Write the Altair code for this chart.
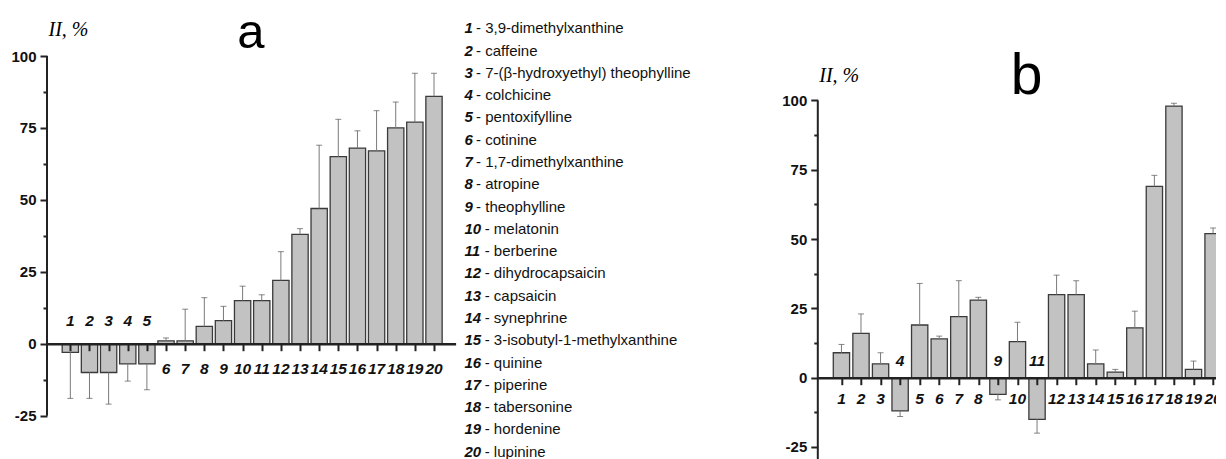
import altair as alt
import pandas as pd

# ---------------- data ----------------
ids = list(range(1, 21))
names = [
    "3,9-dimethylxanthine", "caffeine", "7-(β-hydroxyethyl) theophylline",
    "colchicine", "pentoxifylline", "cotinine", "1,7-dimethylxanthine",
    "atropine", "theophylline", "melatonin", "berberine", "dihydrocapsaicin",
    "capsaicin", "synephrine", "3-isobutyl-1-methylxanthine", "quinine",
    "piperine", "tabersonine", "hordenine", "lupinine",
]
vals_a = [-3, -10, -10, -7, -7, 1, 1, 6, 8, 15, 15, 22, 38, 47, 65, 68, 67, 75, 77, 86]
err_a = [16, 9, 11, 6, 9, 1, 11, 10, 5, 5, 2, 10, 2, 22, 13, 6, 14, 9, 17, 8]
vals_b = [9, 16, 5, -12, 19, 14, 22, 28, -6, 13, -15, 30, 30, 5, 2, 18, 69, 98, 3, 52]
err_b = [3, 7, 4, 2, 15, 1, 13, 1, 2, 7, 5, 7, 5, 5, 1, 6, 4, 1, 3, 2]
y_ticks = [-25, -12.5, 0, 12.5, 25, 37.5, 50, 62.5, 75, 87.5, 100]
y_axis_a = [-25, 100]
y_axis_b = [-29.69, 100]

# ---------------- style ----------------
FONT = "Liberation Sans, Arial"
SERIF = "Liberation Serif, Times New Roman"
DARK = "#222222"
H = 451


def panel(vals, errs, xdom, ydom, axis_span, width, letter, letter_px, letter_size,
          ytitle_y, dy_below, dy_above):
    df = pd.DataFrame({"id": ids, "v": vals, "e": errs})
    df["end"] = [v + (e if v >= 0 else -e) for v, e in zip(vals, errs)]
    df["z"] = 0
    zero_px = H * (ydom[1] - 0) / (ydom[1] - ydom[0])  # from top
    offset = -(H - zero_px)

    xaxis = alt.Axis(values=ids, labels=False, ticks=True, tickSize=7, tickWidth=2,
                     tickColor=DARK, domainColor=DARK, domainWidth=2.5, grid=False,
                     offset=offset, zindex=1, title=letter, titleFont=FONT,
                     titleFontSize=letter_size, titleFontWeight="normal", titleColor="#000",
                     titleX=letter_px[0], titleY=letter_px[1] - zero_px,
                     titleAlign="center", titleBaseline="alphabetic")
    x = alt.X("id:Q", scale=alt.Scale(domain=xdom, nice=False, zero=False), axis=xaxis)

    yaxis = alt.Axis(values=y_ticks, domain=False, grid=False,
                     labelExpr="datum.value % 25 === 0 ? '' + datum.value : ''",
                     labelFont=FONT, labelFontWeight="bold", labelFontSize=15,
                     labelColor="#111", labelPadding=4, tickColor=DARK, tickWidth=2,
                     tickSize={"condition": {"test": "datum.value % 25 !== 0", "value": 4},
                               "value": 7},
                     title="II, %", titleFont=SERIF, titleFontStyle="italic",
                     titleFontWeight="normal", titleFontSize=20, titleColor="#000",
                     titleAngle=0, titleX=1, titleY=ytitle_y, titleAlign="left",
                     titleBaseline="alphabetic")

    def yenc(field):
        return alt.Y(field, type="quantitative",
                     scale=alt.Scale(domain=ydom, nice=False, zero=False), axis=yaxis)

    base = alt.Chart(df)
    bars = base.mark_bar(size=16.3, fill="#c2c2c2", stroke="#3a3a3a", strokeWidth=1.3).encode(
        x=x, y=yenc("v"), y2=alt.Y2("z"))
    whisk = base.mark_rule(color="#7a7a7a", strokeWidth=1).encode(
        x=x, y=yenc("v"), y2=alt.Y2("end"))
    caps = base.mark_tick(orient="horizontal", size=6, thickness=1, color="#555").encode(
        x=x, y=yenc("end"))
    axdf = pd.DataFrame({"lo": [axis_span[0]], "hi": [axis_span[1]]})
    axline = alt.Chart(axdf).mark_rule(color=DARK, strokeWidth=2).encode(
        x=alt.value(0), y=yenc("lo"), y2=alt.Y2("hi"))
    lab_style = dict(font=FONT, fontStyle="italic", fontWeight="bold", fontSize=15.5,
                     color="#111", baseline="middle", align="center")
    lab_pos = base.transform_filter("datum.v >= 0").mark_text(dy=dy_below, **lab_style).encode(
        x=x, y=yenc("z"), text="id:N")
    lab_neg = base.transform_filter("datum.v < 0").mark_text(dy=dy_above, **lab_style).encode(
        x=x, y=yenc("z"), text="id:N")
    return alt.layer(bars, whisk, caps, axline, lab_pos, lab_neg).properties(
        width=width, height=H)


# panel a : plot spans page x 48.7..457.3, y 8..459
pa = panel(vals_a, err_a, xdom=[0.042, 20.867], ydom=[-40.42, 116.34], axis_span=y_axis_a,
           width=408.6, letter="a", letter_px=(203.3, 46.7 - 8), letter_size=49,
           ytitle_y=26, dy_below=25, dy_above=-23)
# panel b : plot spans page x 818.3..1226
pb = panel(vals_b, err_b, xdom=[0.047, 20.38], ydom=y_axis_b[:1] + [133.0], axis_span=y_axis_b,
           width=407.7, letter="b", letter_px=(208.4, 92.3 - 8), letter_size=57,
           ytitle_y=72, dy_below=21, dy_above=-17)

# legend
leg = pd.DataFrame({"id": ids, "num": [str(i) for i in ids],
                    "name": ["- " + n for n in names]})
yleg = alt.Y("id:Q", scale=alt.Scale(domain=[0.134, 20.376], reverse=True, nice=False,
                                     zero=False), axis=None)
lbase = alt.Chart(leg)
num_l = lbase.mark_text(align="left", baseline="middle", font=FONT, fontStyle="italic",
                        fontWeight="bold", fontSize=15, color="#111").encode(
    x=alt.value(0), y=yleg, text="num:N")
name1 = lbase.transform_filter("datum.id < 10").mark_text(
    align="left", baseline="middle", font=FONT, fontSize=15, color="#111", dx=11.7).encode(
    x=alt.value(0), y=yleg, text="name:N")
name2 = lbase.transform_filter("datum.id >= 10").mark_text(
    align="left", baseline="middle", font=FONT, fontSize=15, color="#111", dx=20.3).encode(
    x=alt.value(0), y=yleg, text="name:N")
legend = alt.layer(num_l, name1, name2).properties(width=344.2, height=H)

chart = alt.hconcat(pa, legend, pb, spacing=8.4, bounds="flush").properties(
    padding={"left": 2, "top": 0, "right": -10, "bottom": 0}
).configure(background="white", view=alt.ViewConfig(stroke="transparent", strokeWidth=0))

chart.save("out.html", embed_options={"renderer": "svg", "actions": False})
